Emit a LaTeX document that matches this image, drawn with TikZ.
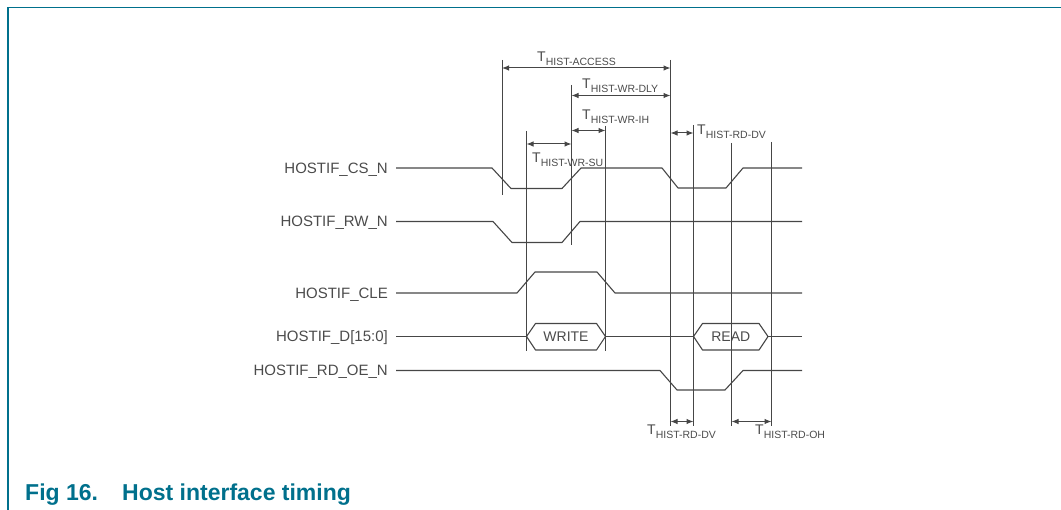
\documentclass[tikz,border=0pt]{standalone}
\usepackage{fontspec}
\setmainfont{Liberation Sans}
\usepackage{tikz}
\usetikzlibrary{arrows.meta}
\usetikzlibrary{calc}
\definecolor{nxp-teal}{RGB}{0,112,140}
\definecolor{wave-gray}{RGB}{70,70,70}
\definecolor{label-gray}{RGB}{75,75,75}
\tikzset{
	wave/.style={draw=wave-gray, line width=1.1pt, line join=round},
	tline/.style={draw=wave-gray, line width=1pt},
	dimline/.style={draw=wave-gray, line width=1pt, {Latex[length=7pt,width=5.5pt]}-{Latex[length=7pt,width=5.5pt]}},
	signame/.style={anchor=east, inner sep=0pt, text height=11pt, text depth=0pt, text=label-gray, font=\fontsize{15}{15}\selectfont}
}
\tikzstyle{tlabel}=[anchor=base west, inner sep=0pt, text=label-gray]
\tikzstyle{caption}=[anchor=base west, inner sep=0pt, text=nxp-teal, font=\fontsize{23}{23}\selectfont\bfseries]
\newcommand{\tname}[1]{{\fontsize{14}{14}\selectfont T}\raisebox{-4pt}{\fontsize{10.5}{10.5}\selectfont #1}}
\newcommand{\busNbox}[4]{
	\draw[wave, fill=white] (#2,336.5) -- (#2+9,323.5) -- (#3-9,323.5) -- (#3,336.5) -- (#3-9,350) -- (#2+9,350) -- cycle;
	\node[text=label-gray, font=\fontsize{14}{14}\selectfont] (#1) at ({(#2+#3)/2},336.5) {#4};
}

\begin{document}
\begin{tikzpicture}[x=1pt,y=-1pt]
	\useasboundingbox (0,0) rectangle (1061,510);
	\draw[nxp-teal, line width=1.4pt] (8,510) -- (8,7.3) -- (1061,7.3);
	\node[signame] (cs) at (388,168) {HOSTIF\_CS\_N};
	\node[signame] (rw) at (388,221.5) {HOSTIF\_RW\_N};
	\node[signame] (cle) at (388,293) {HOSTIF\_CLE};
	\node[signame] (data) at (388,336) {HOSTIF\_D[15:0]};
	\node[signame] (rdoe) at (388,370.5) {HOSTIF\_RD\_OE\_N};
	\draw[wave] ([xshift=8pt]cs.east) -- (492,168) -- (511,188.5) -- (562,188.5) -- (581,168) -- (662,168) -- (678,188) -- (726,188) -- (743,168) -- (802,168);
	\draw[wave] ([xshift=8pt]rw.east) -- (493,221.5) -- (512,242.5) -- (562,242.5) -- (580,221.5) -- (802,221.5);
	\draw[wave] ([xshift=8pt]cle.east) -- (517,293) -- (535,272) -- (597,272) -- (615,293) -- (802,293);
	\draw[wave] ([xshift=8pt]data.east |- 0,336.5) -- (526.5,336.5);
	\draw[wave] (605.5,336.5) -- (693.5,336.5);
	\draw[wave] (768,336.5) -- (802,336.5);
	\draw[wave] ([xshift=8pt]rdoe.east) -- (660,370.5) -- (677,390) -- (725,390) -- (743,370.5) -- (802,370.5);
	\busNbox{wr}{526.5}{605.5}{WRITE}
	\busNbox{rd}{693.5}{768}{READ}
	\foreach \vname/\vx/\vtop/\vbot in {v1/502/60/195, v2/526.5/131/351, v3/571.5/85/245, v4/605.5/126/351, v5/670.5/60/426, v6/693.5/125/426, v7/731.5/143/426, v8/771.5/142/426}
		\draw[tline] (\vx,\vtop) coordinate (\vname) -- (\vx,\vbot);
	\draw[dimline] (v1 |- 0,68) -- (v5 |- 0,68);
	\draw[dimline] (v3 |- 0,95.5) -- (v5 |- 0,95.5);
	\draw[dimline] (v3 |- 0,130.5) -- (v4 |- 0,130.5);
	\draw[dimline] (v2 |- 0,144) -- (v3 |- 0,144);
	\draw[dimline] (v5 |- 0,133) -- (v6 |- 0,133);
	\draw[dimline] (v5 |- 0,421.5) -- (v6 |- 0,421.5);
	\draw[dimline] (v7 |- 0,421.5) -- (v8 |- 0,421.5);
	\node[tlabel] (taccess) at (537,62) {\tname{HIST-ACCESS}};
	\node[tlabel] (twrdly) at (582,88.5) {\tname{HIST-WR-DLY}};
	\node[tlabel] (twrih) at (582,120) {\tname{HIST-WR-IH}};
	\node[tlabel] (twrsu) at (532,163) {\tname{HIST-WR-SU}};
	\node[tlabel] (trddv) at (697,135) {\tname{HIST-RD-DV}};
	\node[tlabel] (trddvb) at (647,435) {\tname{HIST-RD-DV}};
	\node[tlabel] (trdoh) at (755,435) {\tname{HIST-RD-OH}};
	\node[caption] (fignum) at (25,500.5) {Fig 16.};
	\node[caption] (figtitle) at (122,500.5) {Host interface timing};
\end{tikzpicture}
\end{document}
